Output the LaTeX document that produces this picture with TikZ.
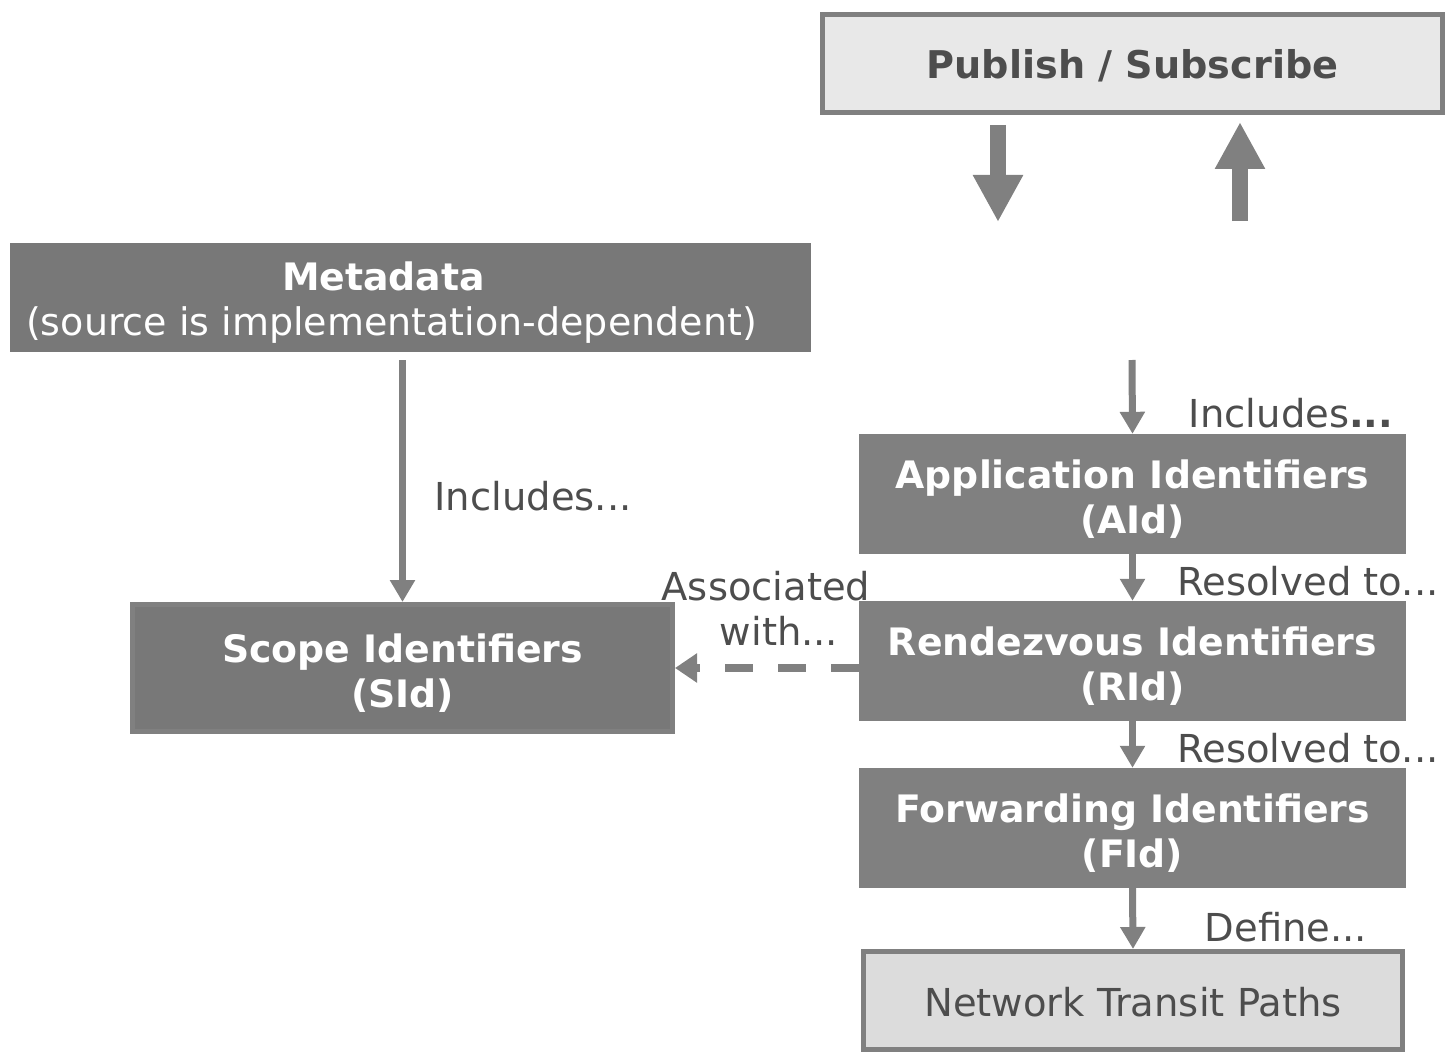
\documentclass[tikz,border=0pt]{standalone}
\usepackage{fontspec}
\setmainfont{DejaVu Sans}
\usetikzlibrary{arrows.meta}
\definecolor{idgray}{HTML}{808080}
\definecolor{metagray}{HTML}{787878}
\definecolor{lightfill}{HTML}{E8E8E8}
\definecolor{pathfill}{HTML}{DCDCDC}
\definecolor{labeltext}{HTML}{4D4D4D}
% taller first line pushes box text slightly downwards
\newcommand\boxstrut{\rule{0pt}{39pt}}
\tikzset{
  txt/.style={font=\fontsize{38.5}{45}\selectfont},
  darkbox/.style={fill=idgray, text=white, align=center, inner sep=0pt,
    font=\fontsize{37.8}{45}\selectfont\bfseries},
  lightbox/.style={txt, draw=idgray, line width=5pt, text=labeltext, align=center, inner sep=0pt},
  lbl/.style={txt, text=labeltext, inner sep=0pt, align=center},
  thinarrow/.style={draw=idgray, line width=7pt, -{Triangle[width=24pt,length=22pt]}},
  blockarrow/.style={draw=idgray, line width=16pt, -{Triangle[width=47pt,length=47pt]}}
}
\begin{document}
\begin{tikzpicture}[x=1pt,y=-1pt]
\useasboundingbox (0,0) rectangle (1449,1054);

% top box and the two flows to and from it
\node[lightbox, fill=lightfill, minimum width=620pt, minimum height=98pt,
      font=\fontsize{38.2}{45}\selectfont\bfseries] (pubsub) at (1132.5,63.5) {\rule{0pt}{33pt}Publish / Subscribe};
\coordinate (pubdn) at (998,222);
\coordinate (pubup) at (1240,221);
\draw[blockarrow, shorten <=10pt] (pubsub.south -| pubdn) -- (pubdn);
\draw[blockarrow, shorten >=7pt] (pubup) -- (pubsub.south -| pubup);

% metadata and scope identifiers
\node[darkbox, fill=metagray, minimum width=801pt, minimum height=109pt] (meta) at (410.5,297.5)
  {\boxstrut Metadata\hspace*{54pt}\\\mdseries\fontsize{38}{45}\selectfont (source is implementation-dependent)\hspace*{38pt}};
\node[darkbox, fill=metagray, draw=idgray, line width=5pt, minimum width=540pt, minimum height=127pt]
  (scope) at (402.5,668) {\boxstrut Scope Identifiers\\(SId)};

\draw[thinarrow, shorten <=8pt] (meta.south -| scope.north) -- (scope.north);
\node[lbl] (incl) at (533,496) {Includes...};

% identifier chain
\node[darkbox, minimum width=547pt, minimum height=120pt] (aid) at (1132.5,494) {\boxstrut Application Identifiers\\(AId)};
\node[darkbox, minimum width=547pt, minimum height=120pt] (rid) at (1132.5,661) {\boxstrut Rendezvous Identifiers\\(RId)};
\node[darkbox, minimum width=547pt, minimum height=120pt] (fid) at (1132.5,828) {\boxstrut Forwarding Identifiers\\(FId)};
\node[lightbox, fill=pathfill, minimum width=539pt, minimum height=98pt] (net) at (1133,1000.5) {\rule{0pt}{32pt}Network Transit Paths};

\coordinate (aidin) at (1132,360);
\draw[thinarrow] (aidin) -- (aid.north);
\draw[thinarrow] (aid.south) -- (rid.north);
\draw[thinarrow] (rid.south) -- (fid.north);
\draw[thinarrow] (fid.south) -- (net.north);

\node[lbl] (inclr) at (1291,413) {Includes\textbf{...}};
\node[lbl] (res1) at (1308,581) {Resolved to...};
\node[lbl] (res2) at (1308,748) {Resolved to...};
\node[lbl] (def) at (1286,927) {Define...};

% association between rendezvous and scope identifiers
\draw[draw=idgray, line width=8pt, dash pattern=on 28pt off 25pt,
      -{Triangle[width=28pt,length=22pt]}] (rid.west |- scope.east) -- (scope.east);
\node[lbl] (assoc) at (766,608) {Associated\\\hspace*{26pt}with...};
\end{tikzpicture}
\end{document}
